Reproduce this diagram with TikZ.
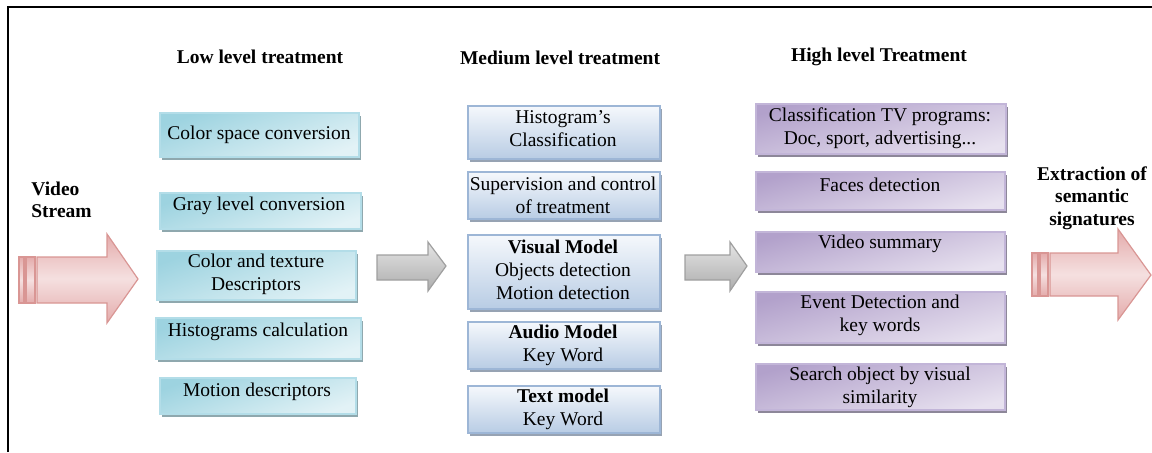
\documentclass[tikz,border=0pt]{standalone}
\usepackage{fontspec}
\setmainfont{Liberation Serif}
\usetikzlibrary{shadows,fit}
\definecolor{lowtop}{HTML}{9DD3E0}
\definecolor{lowbot}{HTML}{E2F2F6}
\definecolor{lowdraw}{HTML}{B3DDE8}
\definecolor{lowshad}{HTML}{8FA8AE}
\definecolor{medtop}{HTML}{F5F8FC}
\definecolor{medbot}{HTML}{B8CCE4}
\definecolor{meddraw}{HTML}{9DB6D6}
\definecolor{medshad}{HTML}{97A3B3}
\definecolor{hightop}{HTML}{B2A1CB}
\definecolor{highbot}{HTML}{E7E1EF}
\definecolor{highdraw}{HTML}{C2B5D8}
\definecolor{highshad}{HTML}{8D8799}
\definecolor{pinkedge}{HTML}{E4ABAB}
\definecolor{pinkmid}{HTML}{F5E0E0}
\definecolor{pinkdraw}{HTML}{D99694}
\begin{document}
\begin{tikzpicture}[x=0.5pt,y=-0.5pt,
  txt/.style={inner sep=0pt, align=center, font=\fontsize{9.75}{11.4}\selectfont},
  ttl/.style={inner sep=0pt, align=center, font=\fontsize{9.75}{11.2}\selectfont\bfseries},
  boxbase/.style={inner sep=0pt, line width=0.6pt},
  lowbox/.style={boxbase, draw=lowdraw, top color=lowtop, bottom color=lowbot, shading angle=20,
    general shadow={fill=lowshad, shadow xshift=1.2pt, shadow yshift=-1.4pt}},
  medbox/.style={boxbase, draw=meddraw, top color=medtop, bottom color=medbot,
    general shadow={fill=medshad, shadow xshift=1.2pt, shadow yshift=-1.4pt}},
  highbox/.style={boxbase, draw=highdraw, top color=hightop, bottom color=highbot, shading angle=15,
    general shadow={fill=highshad, shadow xshift=1.2pt, shadow yshift=-1.4pt}},
  pinkarrow/.style={draw=pinkdraw, line width=0.6pt, top color=pinkedge, bottom color=pinkedge, middle color=pinkmid},
  grayarrow/.style={draw=gray!75, line width=0.6pt, top color=gray!20, bottom color=gray!65}
]
\useasboundingbox (0,0) rectangle (1152,452);

% frame
\draw[line width=1.25pt] (8,452) -- (8,7) -- (1152,7);

% titles
\node[ttl] (tlow) at (260,57) {Low level treatment};
\node[ttl] (tmed) at (560,58) {Medium level treatment};
\node[ttl] (thigh) at (879,57) {High level Treatment};

\node[ttl, align=left, anchor=west] (vs) at (31,200) {Video\\Stream};
\node[ttl] (ext) at (1092,198) {Extraction of\\semantic\\signatures};

% low boxes
\node[lowbox, fit={(160,113) (359,157)}] (l1) {};
\node[lowbox, fit={(160,193) (361,229)}] (l2) {};
\node[lowbox, fit={(157,251) (356,300)}] (l3) {};
\node[lowbox, fit={(156,318) (361,359)}] (l4) {};
\node[lowbox, fit={(160,378) (356,414)}] (l5) {};
\node[txt] (l1t) at (259,135) {Color space conversion};
\node[txt] (l2t) at (259,206) {Gray level conversion};
\node[txt] (l3t) at (256,274) {Color and texture\\Descriptors};
\node[txt] (l4t) at (258,332) {Histograms calculation};
\node[txt] (l5t) at (257,392) {Motion descriptors};

% medium boxes
\node[medbox, fit={(468,106) (660,159)}] (m1) {};
\node[medbox, fit={(468,172) (660,219)}] (m2) {};
\node[medbox, fit={(468,235) (660,309)}] (m3) {};
\node[medbox, fit={(468,322) (660,369)}] (m4) {};
\node[medbox, fit={(468,386) (660,433)}] (m5) {};
\node[txt] (m1t) at (563,129) {Histogram’s\\Classification};
\node[txt] (m2t) at (563,195) {Supervision and control\\of treatment};
\node[txt] (m3t) at (563,270) {\textbf{Visual Model}\\Objects detection\\Motion detection};
\node[txt] (m4t) at (563,345) {\textbf{Audio Model}\\Key Word};
\node[txt] (m5t) at (563,409) {\textbf{Text model}\\Key Word};

% high boxes
\node[highbox, fit={(756,104) (1006,154)}] (h1) {};
\node[highbox, fit={(756,172) (1005,210)}] (h2) {};
\node[highbox, fit={(756,232) (1005,272)}] (h3) {};
\node[highbox, fit={(756,292) (1005,343)}] (h4) {};
\node[highbox, fit={(756,364) (1005,410)}] (h5) {};
\node[txt] (h1t) at (880,128) {Classification TV programs:\\Doc, sport, advertising...};
\node[txt] (h2t) at (880,185) {Faces detection};
\node[txt] (h3t) at (880,244) {Video summary};
\node[txt] (h4t) at (880,315) {Event Detection and\\key words};
\node[txt] (h5t) at (880,387) {Search object by visual\\similarity};

% left pink arrow
\path[pinkarrow] (19,257) rectangle (24,303);
\path[pinkarrow] (26,257) rectangle (35,303);
\path[pinkarrow] (37,257) -- (107,257) -- (107,234) -- (138,279) -- (107,323) -- (107,303) -- (37,303) -- cycle;

% right pink arrow
\path[pinkarrow] (1032,253) rectangle (1038,296);
\path[pinkarrow] (1040,253) rectangle (1048,296);
\path[pinkarrow] (1050,253) -- (1118,253) -- (1118,229) -- (1151,275) -- (1118,320) -- (1118,296) -- (1050,296) -- cycle;

% gray arrows
\path[grayarrow] (377,255) -- (428,255) -- (428,242) -- (446,266) -- (428,291) -- (428,280) -- (377,280) -- cycle;
\path[grayarrow] (685,255) -- (730,255) -- (730,242) -- (747,266) -- (730,291) -- (730,280) -- (685,280) -- cycle;
\end{tikzpicture}
\end{document}
